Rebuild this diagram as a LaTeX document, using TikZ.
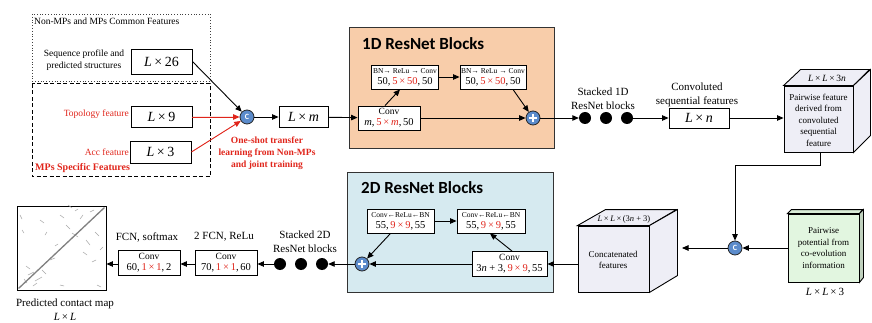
\documentclass[tikz,border=0pt]{standalone}
\usepackage{fontspec}
\setmainfont{Liberation Serif}
\newfontfamily\titlefont{Carlito}
\usetikzlibrary{arrows.meta,calc}
\definecolor{myred}{HTML}{E0251B}
\definecolor{orangefill}{HTML}{F8CDAA}
\definecolor{bluefill}{HTML}{D6EAF0}
\definecolor{cubefill}{HTML}{EEEEF6}
\definecolor{greenfill}{HTML}{E2F6E0}
\definecolor{circfill}{HTML}{5B8BCB}
\newcommand{\mytimes}{\hspace{0.18em}×\hspace{0.18em}}
\newcommand{\myL}{\textit{L}}
\begin{document}
\begin{tikzpicture}[x=1pt,y=-1pt,
  box/.style={draw, line width=0.9pt, fill=white, inner sep=0pt, align=center},
  arr/.style={-{Triangle[length=6.5pt,width=5.5pt]}, line width=0.9pt},
  rarr/.style={arr, draw=myred, fill=myred},
  circbase/.style={circle, draw=black!85, line width=0.8pt, fill=circfill, minimum size=14pt, inner sep=0pt},
  cc/.style={circbase, text=white, font={\fontsize{8}{8}\titlefont\bfseries}},
  plusc/.style={circbase, path picture={\draw[white,line width=1.6pt]
     ($(path picture bounding box.center)+(-4.2,0)$) -- ++(8.4,0)
     ($(path picture bounding box.center)+(0,-4.2)$) -- ++(0,8.4);}},
  bigdot/.style={circle, fill=black, minimum size=12pt, inner sep=0pt},
  lbl/.style={font={\fontsize{9.5}{11.5}\selectfont}, align=center, inner sep=0pt},
  mid/.style={font={\fontsize{11}{14}\selectfont}, align=center, inner sep=0pt},
  big/.style={font={\fontsize{14}{14}\selectfont}},
  small/.style={font={\fontsize{9}{11.5}\selectfont}, align=center, inner sep=0pt},
  block/.style={draw=black!80, line width=0.9pt, inner sep=0pt},
  title/.style={font={\fontsize{17}{17}\titlefont\bfseries}, inner sep=0pt},
  cube/.style={draw, line width=0.9pt, fill=cubefill}
]
\useasboundingbox (0,0) rectangle (872,323);

% ---------- feature group boxes
\draw[dotted, line width=0.8pt, black!75] (32,14) rectangle (210,81);
\draw[line width=1pt, dash pattern=on 4pt off 2.5pt] (32,84) rectangle (210,177);
\node[lbl, anchor=west] (commonlbl) at (34,21) {Non-MPs and MPs Common Features};
\node[lbl] (seqtxt) at (84,60) {Sequence profile and\\predicted structures};
\node[box, big, minimum width=61pt, minimum height=25pt] (b26) at (161.5,61.5) {\myL\mytimes 26};
\node[lbl, anchor=east, text=myred] (topotxt) at (129,114) {Topology feature};
\node[box, big, minimum width=61pt, minimum height=21pt] (b9) at (161.5,117) {\myL\mytimes 9};
\node[lbl, anchor=east, text=myred] (acctxt) at (129,152) {Acc feature};
\node[box, big, minimum width=61pt, minimum height=22pt] (b3) at (160.5,152) {\myL\mytimes 3};
\node[lbl, anchor=west, text=myred, font={\fontsize{10}{12}\selectfont\bfseries}] (mpslbl) at (35,168) {MPs Specific Features};

\node[cc] (c1) at (247,117) {C};
\node[box, big, minimum width=49pt, minimum height=21pt] (bm) at (303.5,117) {\myL\mytimes\textit{m}};
\node[lbl, text=myred, font={\fontsize{9.5}{12}\selectfont\bfseries}] (transfer) at (267,153) {One-shot transfer\\learning from Non-MPs\\and joint training};

% ---------- 1D ResNet block
\node[block, fill=orangefill, minimum width=205pt, minimum height=121pt] (blk1) at (451.5,87.5) {};
\node[title, anchor=west] (t1) at (362,44) {1D ResNet Blocks};
\node[box, minimum width=67pt, minimum height=24pt] (bn1) at (405,77)
  {{\fontsize{7.5}{8}\selectfont BN→ ReLu → Conv}\\[-1pt]{\fontsize{10.5}{11}\selectfont 50,\,\textcolor{myred}{5\mytimes 50},\,50}};
\node[box, minimum width=66pt, minimum height=24pt] (bn2) at (493,77)
  {{\fontsize{7.5}{8}\selectfont BN→ ReLu → Conv}\\[-1pt]{\fontsize{10.5}{11}\selectfont 50,\,\textcolor{myred}{5\mytimes 50},\,50}};
\node[box, minimum width=62pt, minimum height=24pt] (conv1) at (389,118)
  {{\fontsize{9.5}{10}\selectfont Conv}\\[-1pt]{\fontsize{10.5}{11}\selectfont \textit{m},\,\textcolor{myred}{5\mytimes\textit{m}},\,50}};
\node[plusc] (p1) at (533,118) {};

\node[bigdot] (d1) at (585,118) {};
\node[bigdot] (d2) at (606,118) {};
\node[bigdot] (d3) at (627,118) {};
\node[mid] (stk1) at (603,99) {Stacked 1D\\ResNet blocks};
\node[mid] (convseq) at (697,95) {Convoluted\\sequential features};
\node[box, big, minimum width=60pt, minimum height=20pt] (lxn) at (699,118) {\myL\mytimes\textit{n}};

% ---------- cube 1
\node[cube, minimum width=69pt, minimum height=66pt, inner sep=0pt] (cube1) at (818.5,119) {};
\draw[cube] (cube1.north west) -- ++(17,-16) -- ++(69,0) -- (cube1.north east) -- cycle;
\draw[cube] (cube1.north east) -- ++(17,-16) -- ++(0,66) -- (cube1.south east) -- cycle;
\node[small] (cube1txt) at (818.5,120) {Pairwise feature\\derived from\\convoluted\\sequential\\feature};
\node[small, font={\fontsize{9.5}{11}\selectfont}] (cube1lbl) at (827,78) {\myL\mytimes\myL\mytimes 3\textit{n}};

% ---------- green box
\node[draw, line width=0.9pt, fill=greenfill, minimum width=71pt, minimum height=68pt, inner sep=0pt] (green) at (823.5,248) {};
\draw[draw, line width=0.9pt, fill=greenfill!80!black!20!greenfill] (green.north west) -- ++(4,-4) -- ++(71,0) -- (green.north east) -- cycle;
\draw[draw, line width=0.9pt, fill=greenfill!85!black] (green.north east) -- ++(4,-4) -- ++(0,68) -- (green.south east) -- cycle;
\node[small] (greentxt) at (823.5,248) {Pairwise\\potential from\\co-evolution\\information};
\node[mid] (greenlbl) at (825,292) {\myL\mytimes\myL\mytimes 3};
\node[cc] (c2) at (735,248) {C};

% ---------- cube 2
\node[cube, minimum width=71pt, minimum height=66pt, inner sep=0pt] (cube2) at (613.5,259) {};
\draw[cube] (cube2.north west) -- ++(28,-16) -- ++(71,0) -- (cube2.north east) -- cycle;
\draw[cube] (cube2.north east) -- ++(28,-16) -- ++(0,66) -- (cube2.south east) -- cycle;
\node[small] (cube2txt) at (613,260) {Concatenated\\features};
\node[small, font={\fontsize{8.5}{10}\selectfont}] (cube2lbl) at (624,219) {\myL\mytimes\myL\mytimes(3\textit{n} + 3)};

% ---------- 2D ResNet block
\node[block, fill=bluefill, minimum width=206pt, minimum height=120pt] (blk2) at (450,232) {};
\node[title, anchor=west] (t2) at (361,188) {2D ResNet Blocks};
\node[box, minimum width=67pt, minimum height=24pt] (ba) at (400.5,221)
  {{\fontsize{7.5}{8}\selectfont Conv←ReLu←BN}\\[-1pt]{\fontsize{10.5}{11}\selectfont 55,\,\textcolor{myred}{9\mytimes 9},\,55}};
\node[box, minimum width=68pt, minimum height=24pt] (bb) at (491,221)
  {{\fontsize{7.5}{8}\selectfont Conv←ReLu←BN}\\[-1pt]{\fontsize{10.5}{11}\selectfont 55,\,\textcolor{myred}{9\mytimes 9},\,55}};
\node[box, minimum width=75pt, minimum height=25pt] (conv2) at (509.5,264)
  {{\fontsize{9.5}{10}\selectfont Conv}\\[-1pt]{\fontsize{10.5}{11}\selectfont 3\textit{n} + 3,\,\textcolor{myred}{9\mytimes 9},\,55}};
\node[plusc] (p2) at (362,264) {};

% ---------- output part
\node[bigdot] (d4) at (280,264) {};
\node[bigdot] (d5) at (301,264) {};
\node[bigdot] (d6) at (322,264) {};
\node[mid] (stk2) at (305,242) {Stacked 2D\\ResNet blocks};
\node[box, minimum width=62pt, minimum height=25pt] (fc2) at (226,263)
  {{\fontsize{9.5}{10}\selectfont Conv}\\[-1pt]{\fontsize{10.5}{11}\selectfont 70,\,\textcolor{myred}{1\mytimes 1},\,60}};
\node[mid] (fc2lbl) at (224,237) {2 FCN, ReLu};
\node[box, minimum width=62pt, minimum height=25pt] (fc1) at (149,263)
  {{\fontsize{9.5}{10}\selectfont Conv}\\[-1pt]{\fontsize{10.5}{11}\selectfont 60,\,\textcolor{myred}{1\mytimes 1},\,2}};
\node[mid] (fc1lbl) at (147,237) {FCN, softmax};
\node[draw, line width=0.9pt, fill=white, minimum width=89pt, minimum height=84pt, inner sep=0pt] (cmap) at (61.5,248) {};
\node[mid] (cmaplbl) at (65,310) {Predicted contact map\\\myL\mytimes\myL};

% contact map content
\begin{scope}[line width=0.5pt, black!35]
  \foreach \xa/\ya/\xb/\yb in {40/220/44/223, 60/215/64/218, 66/225/70/229, 72/233/78/237,
     80/219/83/215, 86/240/90/245, 95/232/99/236, 50/260/55/258, 28/275/34/272, 35/281/42/277,
     26/266/30/269, 97/285/101/287, 60/285/64/286, 90/212/94/210, 22/230/24/233, 75/211/78/209,
     45/235/47/232, 55/246/58/244, 83/252/87/255, 92/262/96/260, 33/286/37/283, 24/279/27/283,
     68/205/72/208, 100/250/103/247, 20/215/22/219, 42/270/46/274}
    \draw (\xa,\ya) -- (\xb,\yb);
\end{scope}
\draw[line width=1.3pt, black!50] ($(cmap.south west)+(2,-2)$) -- ($(cmap.north east)+(-2,2)$);

% ---------- connectors
\draw[arr] (b26.east) -- (c1);
\draw[rarr] (b9.east) -- (c1);
\draw[rarr] (b3.east) -- (c1);
\draw[arr] (c1) -- (bm);
\draw[arr] (bm) -- (conv1);
\draw[arr] ([xshift=-4pt]conv1.north) -- ([xshift=-5pt]bn1.south);
\draw[arr] (bn1) -- (bn2);
\draw[arr] ([xshift=20pt]bn2.south) -- (p1);
\draw[arr] (conv1) -- (p1);
\draw[arr] (p1) -- (d1);
\draw[arr] (d3) -- (lxn);
\draw[arr] (lxn.east) -- (lxn.east -| cube1.west);
\coordinate (k1) at (735,165);
\draw[arr] ([xshift=1.5pt]cube1.south) |- (k1) -- (c2);
\draw[arr] (green.west |- c2) -- (c2);
\coordinate (k2) at (682,248);
\draw[arr] (c2) -- (k2);
\draw[arr] (conv2.east -| cube2.west) -- (conv2.east);
\draw[arr] (conv2) -- (p2);
\draw[arr] (ba) -- (bb);
\draw[arr] ([xshift=2.5pt]conv2.north) -- ([xshift=-1pt]bb.south);
\draw[arr] ([xshift=-10pt]ba.south) -- (p2);
\draw[arr] (p2) -- (d6);
\draw[arr] (d4) -- (fc2.east |- d4);
\draw[arr] (fc2.west |- d4) -- (fc1.east |- d4);
\draw[arr] (fc1.west |- d4) -- (cmap.east |- d4);
\end{tikzpicture}
\end{document}
